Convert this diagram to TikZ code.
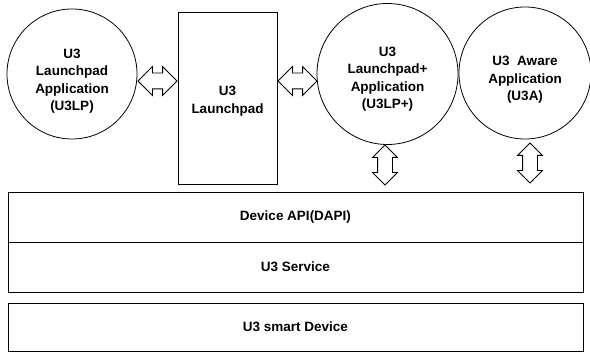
\documentclass[tikz,border=0pt]{standalone}
\usepackage{fontspec}
\setmainfont{Liberation Sans}
\usetikzlibrary{shapes.arrows}

\tikzset{
    u3font/.style={font=\bfseries\fontsize{13.5}{17.5}\selectfont},
    appcircle/.style={draw, circle, line width=0.8pt, inner sep=0pt},
    layerbox/.style={draw, rectangle, line width=0.8pt, minimum width=575pt, u3font},
    dblarrow/.style={draw, double arrow, line width=0.8pt, inner sep=7.5pt,
        minimum height=39pt, double arrow head extend=6.5pt, double arrow tip angle=90},
    updown/.style={dblarrow, shape border rotate=90, inner sep=7pt,
        minimum height=40pt, double arrow head extend=5pt}
}

\begin{document}
\begin{tikzpicture}[x=1pt, y=-1pt]

        \useasboundingbox (0,0) rectangle (590,352);

        \node [appcircle, minimum size=130pt,
            label={[u3font, align=center, yshift=-7pt]center:{U3\\Launchpad\\Application\\(U3LP)}}]
            (lpapp) at (72,74) {};
        \node [draw, rectangle, line width=0.8pt, minimum width=99pt, minimum height=172pt,
            label={[u3font, align=center, yshift=-3pt]center:{U3\\Launchpad}}]
            (launchpad) at (227.5,98) {};
        \node [appcircle, minimum size=141pt,
            label={[u3font, align=center, yshift=-5pt]center:{U3\\Launchpad+\\Application\\(U3LP+)}}]
            (lpplus) at (387.5,74) {};
        \node [appcircle, minimum size=132pt,
            label={[u3font, align=center, yshift=-7pt]center:{U3~~Aware\\Application\\(U3A)}}]
            (aware) at (525,73) {};

        \node [dblarrow] (lpapp-launchpad) at (157.5,81) {};
        \node [dblarrow] (launchpad-lpplus) at (297.5,81) {};
        \node [updown] (lpplus-dapi) at (385,165) {};
        \node [updown] (aware-dapi) at (530,163) {};

        \node [layerbox, minimum height=50pt] (dapi) at (295.5,217) {Device API(DAPI)};
        \node [layerbox, minimum height=50pt] (service) at (295.5,267) {U3 Service};
        \node [layerbox, minimum height=48pt] (device) at (295.5,327) {U3 smart Device};

    \end{tikzpicture}
\end{document}
